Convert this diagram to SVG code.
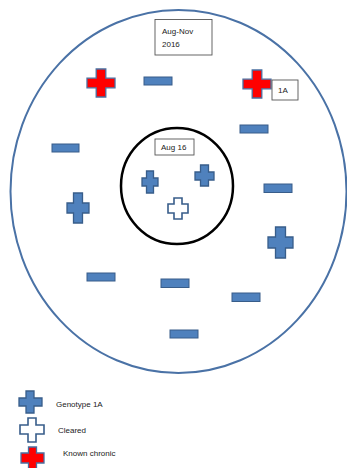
<svg xmlns="http://www.w3.org/2000/svg" width="347" height="468" viewBox="0 0 347 468">
<style>
.geno{fill:#4F81BD;stroke:#385D8A;stroke-width:1.3}
.clr{fill:#FFFFFF;stroke:#385D8A;stroke-width:1.6}
.chr{fill:#FF0000;stroke:#4A6FA0;stroke-width:1.3}
.neg{fill:#4F81BD;stroke:#385D8A;stroke-width:1}
.box{fill:#FFFFFF;stroke:#555555;stroke-width:0.9}
text{font-family:"Liberation Sans",Arial,sans-serif;font-size:8px;fill:#222}
</style>
<rect width="347" height="468" fill="#FFFFFF"/>
<g id="outer"><ellipse cx="178.5" cy="191.5" rx="168" ry="181.5" fill="none" stroke="#4A72A6" stroke-width="2"/></g>
<g id="inner"><ellipse cx="177" cy="186" rx="56" ry="58" fill="none" stroke="#000000" stroke-width="2.5"/></g>
<g id="label-augnov"><rect class="box" x="155" y="19.5" width="57" height="35.5"/><text x="162" y="34">Aug-Nov</text><text x="162" y="47">2016</text></g>
<g id="label-aug16"><rect class="box" x="155" y="139" width="39" height="16"/><text x="161" y="150">Aug 16</text></g>
<g id="chronic1"><path class="chr" d="M96.2,69 H105.8 V78.2 H115 V87.8 H105.8 V97 H96.2 V87.8 H87 V78.2 H96.2 Z"/></g>
<g id="chronic2"><path class="chr" d="M252.2,70 H261.8 V79.2 H271 V88.8 H261.8 V98 H252.2 V88.8 H243 V79.2 H252.2 Z"/></g>
<g id="label-1a"><rect class="box" x="272" y="80" width="26" height="20"/><text x="278" y="93">1A</text></g>
<g id="neg1"><rect class="neg" x="144" y="77" width="28" height="8"/></g>
<g id="neg2"><rect class="neg" x="240" y="125" width="28" height="8"/></g>
<g id="neg3"><rect class="neg" x="52" y="144" width="27" height="8"/></g>
<g id="neg4"><rect class="neg" x="264" y="184" width="28" height="8.5"/></g>
<g id="neg5"><rect class="neg" x="87" y="273" width="28" height="8"/></g>
<g id="neg6"><rect class="neg" x="161" y="279" width="28" height="8.5"/></g>
<g id="neg7"><rect class="neg" x="232" y="293" width="28" height="8.5"/></g>
<g id="neg8"><rect class="neg" x="170" y="330" width="28" height="8"/></g>
<g id="geno1"><path class="geno" d="M73.5,193 H82.5 V203 H89 V213 H82.5 V223 H73.5 V213 H67 V203 H73.5 Z"/></g>
<g id="geno2"><path class="geno" d="M275.5,227 H285.5 V237 H293 V248 H285.5 V258 H275.5 V248 H268 V237 H275.5 Z"/></g>
<g id="geno3"><path class="geno" d="M146.5,171 H153.5 V178 H158 V186 H153.5 V193 H146.5 V186 H142 V178 H146.5 Z"/></g>
<g id="geno4"><path class="geno" d="M200.5,165 H208.5 V172 H214 V180 H208.5 V186 H200.5 V180 H195 V172 H200.5 Z"/></g>
<g id="cleared1"><path class="clr" d="M174,198 H182 V204 H188 V213 H182 V219 H174 V213 H168 V204 H174 Z"/></g>
<g id="legend">
<path class="geno" d="M26,391 H34 V398 H42 V406 H34 V413 H26 V406 H19 V398 H26 Z"/>
<text x="56" y="407">Genotype  1A</text>
<path class="clr" d="M28,418 H36 V425 H44 V434 H36 V442 H28 V434 H20 V425 H28 Z"/>
<text x="58" y="433">Cleared</text>
<path class="chr" d="M28.5,447 H36.5 V453 H44 V463 H36.5 V471 H28.5 V463 H21 V453 H28.5 Z"/>
<text x="63" y="456">Known  chronic</text>
</g>
<g id="connectors"/>
</svg>
